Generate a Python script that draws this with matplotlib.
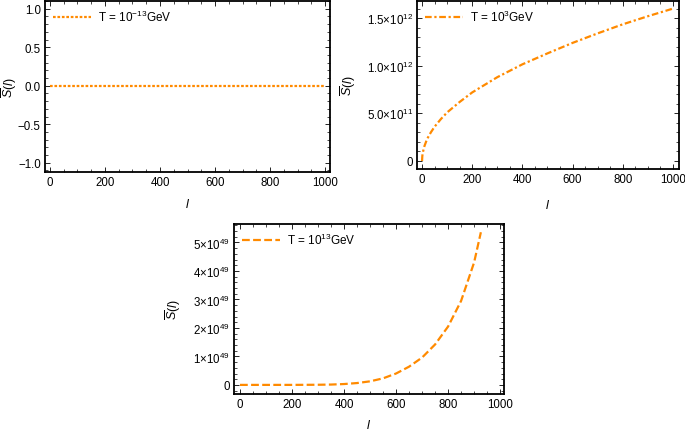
import numpy as np
import matplotlib.pyplot as plt
from matplotlib.ticker import MultipleLocator

# data
l1 = [0, 1000]
s1 = [0, 0]

l2 = [0, 1, 2, 5, 10, 20, 35, 50, 75, 100, 150, 200, 250, 300, 400, 500, 600, 700, 800, 900, 1000]
s2 = [0, 0.05, 0.07, 0.11, 0.16, 0.23, 0.30, 0.36, 0.44, 0.51, 0.62, 0.72, 0.80, 0.88,
      1.015, 1.13, 1.24, 1.34, 1.435, 1.52, 1.60]  # x 1e12

l3 = [0, 100, 200, 300, 350, 400, 450, 500, 550, 600, 650, 700, 750, 800, 850, 900, 926]
s3 = [0, 0.0001, 0.0005, 0.005, 0.012, 0.03, 0.065, 0.125, 0.23, 0.40, 0.64, 0.96,
      1.42, 2.05, 2.95, 4.30, 5.36]  # x 1e49

labels = [r'T = 10$^{-13}$GeV', r'T = 10$^{3}$GeV', r'T = 10$^{13}$GeV']

orange = '#ff8a00'
plt.rcParams['font.family'] = ['Liberation Sans', 'DejaVu Sans']
plt.rcParams['mathtext.fontset'] = 'custom'
plt.rcParams['mathtext.rm'] = 'Liberation Sans'
plt.rcParams['mathtext.it'] = 'Liberation Sans:italic'
plt.rcParams['mathtext.bf'] = 'Liberation Sans:bold'
plt.rcParams['font.size'] = 8
plt.rcParams['axes.unicode_minus'] = True

fig = plt.figure(figsize=(6.85, 4.31), dpi=100)
ax1 = fig.add_axes([0.0657, 0.5986, 0.4161, 0.3968])
ax2 = fig.add_axes([0.6088, 0.6056, 0.3824, 0.3898])
ax3 = fig.add_axes([0.3416, 0.0835, 0.3942, 0.3945])


def style(ax, ylx, xly):
    for sp in ax.spines.values():
        sp.set_linewidth(1.3)
    ax.tick_params(which='both', direction='in', top=True, right=True, labelsize=8.3, pad=3)
    ax.tick_params(which='major', length=3.5, width=0.6)
    ax.tick_params(which='minor', length=2, width=0.5)
    ax.set_xticks([0, 200, 400, 600, 800, 1000])
    ax.xaxis.set_minor_locator(MultipleLocator(50))
    ax.set_xlabel(r'$l$', fontsize=9)
    ax.set_ylabel(r'$\overline{S}(l)$', fontsize=9)
    ax.yaxis.set_label_coords(ylx, 0.5)
    ax.xaxis.set_label_coords(0.5, xly)


# panel 1
ax1.plot(l1, s1, color=orange, lw=1.6, linestyle=(0, (1.2, 0.8)), label=labels[0])
ax1.set_xlim(-18, 1018)
ax1.set_ylim(-1.12, 1.1)
style(ax1, -0.092, -0.146)
ax1.set_yticks([-1.0, -0.5, 0.0, 0.5, 1.0])
ax1.yaxis.set_minor_locator(MultipleLocator(0.1))

# panel 2
ax2.plot(l2, np.array(s2) * 1e12, color=orange, lw=1.6,
         linestyle=(0, (3, 1.2, 1, 1.2)), label=labels[1])
ax2.set_xlim(-20, 1024)
ax2.set_ylim(-0.084e12, 1.68e12)
style(ax2, -0.225, -0.173)
ax2.set_yticks([0, 5e11, 1e12, 1.5e12],
               ['0', r'5.0$\times$10$^{11}$', r'1.0$\times$10$^{12}$', r'1.5$\times$10$^{12}$'])
ax2.yaxis.set_minor_locator(MultipleLocator(1e11))

# panel 3
ax3.plot(l3, np.array(s3) * 1e49, color=orange, lw=1.6,
         linestyle=(0, (3.5, 1.5)), label=labels[2])
ax3.set_xlim(-23, 1015)
ax3.set_ylim(-0.32e49, 5.65e49)
style(ax3, -0.19, -0.14)
ax3.set_yticks([0, 1e49, 2e49, 3e49, 4e49, 5e49],
               ['0'] + [r'%d$\times$10$^{49}$' % k for k in range(1, 6)])
ax3.yaxis.set_minor_locator(MultipleLocator(0.2e49))

for ax in (ax1, ax2, ax3):
    ax.legend(loc='upper left', frameon=False, fontsize=8.5, handlelength=3.2,
              borderaxespad=0.3, handletextpad=0.6)

fig.savefig('out.png', dpi=100)
